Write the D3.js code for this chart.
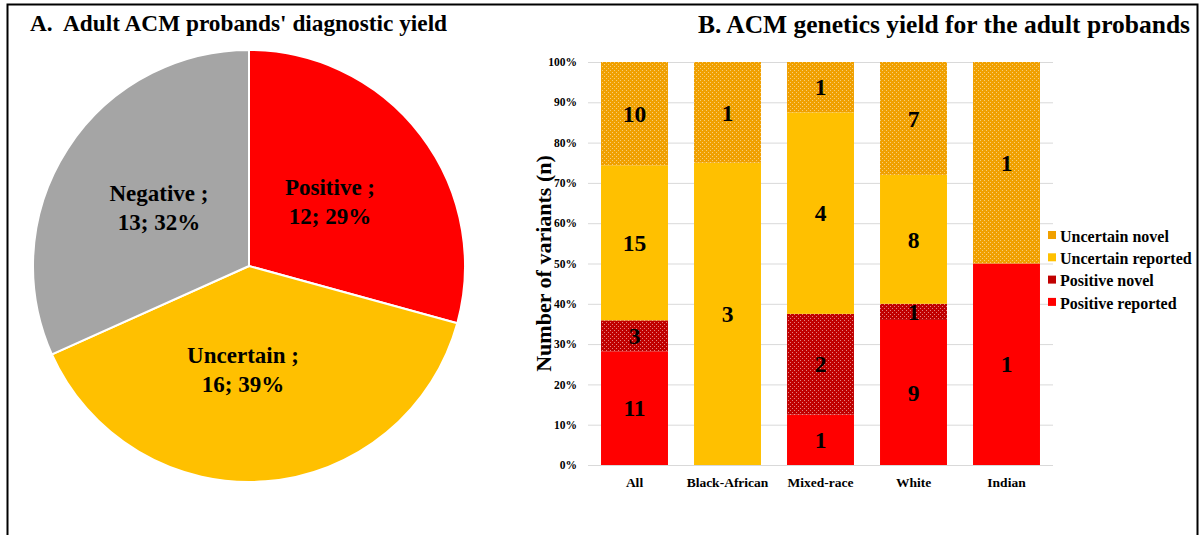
<!DOCTYPE html>
<html>
<head>
<meta charset="utf-8">
<script src="https://cdn.jsdelivr.net/npm/d3@7"></script>
<style>
  html, body { margin: 0; padding: 0; background: #fff; }
  svg { display: block; }
  text { font-family: "Liberation Serif", "Times New Roman", serif; font-weight: bold; fill: #000; }
</style>
</head>
<body>
<svg id="chart" width="1201" height="535"></svg>
<script>
// Panel A: diagnostic yield of the adult probands
const yieldLabels = ["Positive", "Uncertain", "Negative"];
const yieldCounts = [12, 16, 13];
const yieldColors = ["#FF0000", "#FFC000", "#A5A5A5"];

// Panel B: variant classes per ancestry group
const groups = ["All", "Black-African", "Mixed-race", "White", "Indian"];
const seriesNames = ["Positive reported", "Positive novel", "Uncertain reported", "Uncertain novel"];
const positiveReported = [11, 0, 1, 9, 1];
const positiveNovel = [3, 0, 2, 1, 0];
const uncertainReported = [15, 3, 4, 8, 0];
const uncertainNovel = [10, 1, 1, 7, 1];
const yTicks = [0, 0.1, 0.2, 0.3, 0.4, 0.5, 0.6, 0.7, 0.8, 0.9, 1.0];

const svg = d3.select("#chart");
const defs = svg.append("defs");

// dotted fills for the "novel" classes
function dotPattern(id, base, dot) {
  const p = defs.append("pattern").attr("id", id)
    .attr("patternUnits", "userSpaceOnUse").attr("width", 4).attr("height", 4);
  p.append("rect").attr("width", 4).attr("height", 4).attr("fill", base);
  p.append("rect").attr("x", 0).attr("y", 0).attr("width", 1).attr("height", 1).attr("fill", dot);
  p.append("rect").attr("x", 2).attr("y", 2).attr("width", 1).attr("height", 1).attr("fill", dot);
}
dotPattern("dotsDarkRed", "#C00000", "#E48080");
dotPattern("dotsOrange", "#F0A000", "#F8CE78");

const seriesFill = {
  "Positive reported": "#FF0000",
  "Positive novel": "url(#dotsDarkRed)",
  "Uncertain reported": "#FFC000",
  "Uncertain novel": "url(#dotsOrange)"
};
const legendSwatch = {
  "Positive reported": "#FF0000",
  "Positive novel": "#C00000",
  "Uncertain reported": "#FFC000",
  "Uncertain novel": "#F0A000"
};

// frame
svg.append("path")
  .attr("d", "M7.5,535 V4.5 H1197.5 V535")
  .attr("fill", "none").attr("stroke", "#000").attr("stroke-width", 2);

// ---------- Panel A ----------
svg.append("text").attr("x", 30).attr("y", 31)
  .attr("font-size", 23.3).attr("xml:space", "preserve")
  .text("A.  Adult ACM probands' diagnostic yield");

const cx = 249, cy = 266, radius = 216;
const total = d3.sum(yieldCounts);
const pie = d3.pie().sort(null).value(d => d.n);
const pieData = pie(yieldLabels.map((l, i) => ({ label: l, n: yieldCounts[i], color: yieldColors[i] })));
const arc = d3.arc().innerRadius(0).outerRadius(radius);

const pg = svg.append("g").attr("transform", `translate(${cx},${cy})`);
pg.selectAll("path").data(pieData).join("path")
  .attr("d", arc).attr("fill", d => d.data.color)
  .attr("stroke", "#fff").attr("stroke-width", 2);

const pieLabelPos = { Positive: [81, -71], Uncertain: [-6, 97], Negative: [-90, -65] };
pieData.forEach(d => {
  const [lx, ly] = pieLabelPos[d.data.label];
  const pct = Math.round(d.data.n / total * 100);
  const t = pg.append("text").attr("text-anchor", "middle").attr("font-size", 23);
  t.append("tspan").attr("x", lx).attr("y", ly).text(`${d.data.label} ;`);
  t.append("tspan").attr("x", lx).attr("y", ly + 29).text(`${d.data.n}; ${pct}%`);
});

// ---------- Panel B ----------
svg.append("text").attr("x", 1190).attr("y", 33)
  .attr("font-size", 25.5).attr("text-anchor", "end")
  .text("B. ACM genetics yield for the adult probands");

const plot = { left: 588, right: 1053, top: 62, bottom: 465 };
const x = d3.scaleBand().domain(groups).range([plot.left, plot.right]).paddingInner(0.28).paddingOuter(0.14);
const y = d3.scaleLinear().domain([0, 1]).range([plot.bottom, plot.top]);

const rows = groups.map((g, i) => ({
  group: g,
  "Positive reported": positiveReported[i],
  "Positive novel": positiveNovel[i],
  "Uncertain reported": uncertainReported[i],
  "Uncertain novel": uncertainNovel[i]
}));
const stacked = d3.stack().keys(seriesNames).offset(d3.stackOffsetExpand)(rows);

// gridlines and tick labels
const yAxis = d3.axisLeft(y).tickValues(yTicks).tickFormat(d3.format(".0%"))
  .tickSize(-(plot.right - plot.left)).tickPadding(11);
const ya = svg.append("g").attr("transform", `translate(${plot.left},0)`).call(yAxis);
ya.select(".domain").remove();
ya.selectAll(".tick line").attr("stroke", "#D9D9D9").attr("stroke-width", 1);
ya.selectAll(".tick text").attr("font-family", "Liberation Serif, serif")
  .attr("font-weight", "bold").attr("font-size", 11.5).attr("fill", "#595959");

svg.append("text")
  .attr("transform", `translate(551,${(plot.top + plot.bottom) / 2}) rotate(-90)`)
  .attr("text-anchor", "middle").attr("font-size", 22)
  .text("Number of variants (n)");

// stacked segments
const layers = svg.append("g").selectAll("g").data(stacked).join("g")
  .attr("fill", d => seriesFill[d.key]);
layers.selectAll("rect").data(d => d.map(s => ({ s, key: d.key }))).join("rect")
  .attr("x", d => x(d.s.data.group))
  .attr("width", x.bandwidth())
  .attr("y", d => y(d.s[1]))
  .attr("height", d => y(d.s[0]) - y(d.s[1]));

// segment counts
const labels = svg.append("g");
stacked.forEach(layer => {
  layer.forEach(s => {
    const n = s.data[layer.key];
    if (!n) return;
    labels.append("text")
      .attr("x", x(s.data.group) + x.bandwidth() / 2)
      .attr("y", y((s[0] + s[1]) / 2))
      .attr("dy", "0.35em").attr("text-anchor", "middle")
      .attr("font-size", 23.5).text(n);
  });
});

// category labels
const xAxis = d3.axisBottom(x).tickSize(0).tickPadding(12);
const xa = svg.append("g").attr("transform", `translate(0,${plot.bottom})`).call(xAxis);
xa.select(".domain").remove();
xa.selectAll(".tick text").attr("font-family", "Liberation Serif, serif")
  .attr("font-weight", "bold").attr("font-size", 13.5).attr("fill", "#262626");

// legend
const legendOrder = ["Uncertain novel", "Uncertain reported", "Positive novel", "Positive reported"];
const lg = svg.append("g").attr("transform", "translate(1048,236)");
legendOrder.forEach((k, i) => {
  const row = lg.append("g").attr("transform", `translate(0,${i * 22.3})`);
  row.append("rect").attr("x", 0).attr("y", -5).attr("width", 8).attr("height", 8).attr("fill", legendSwatch[k]);
  row.append("text").attr("x", 12).attr("y", 0).attr("dy", "0.35em")
    .attr("font-size", 16).attr("fill", "#262626").text(k);
});
</script>
</body>
</html>
